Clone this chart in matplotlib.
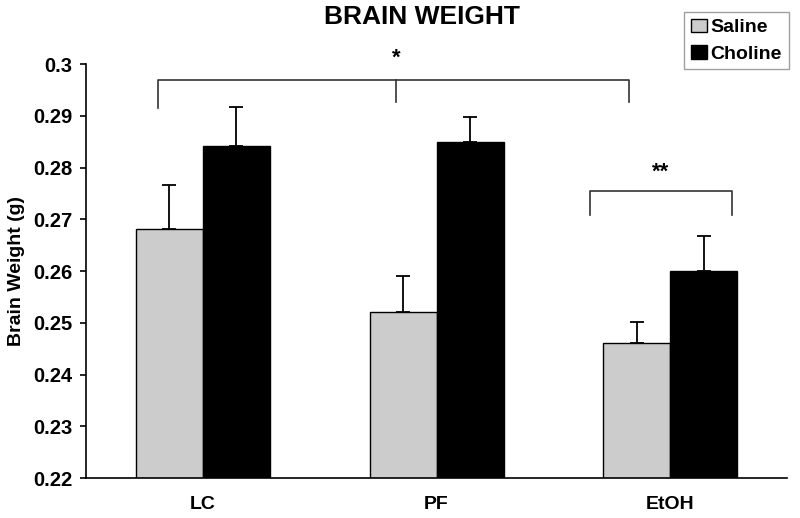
import matplotlib
matplotlib.use("Agg")
import matplotlib.pyplot as plt
import numpy as np

categories = ["LC", "PF", "EtOH"]
saline = [0.2682, 0.2520, 0.2460]
saline_err = [0.0085, 0.0070, 0.0042]
choline = [0.2842, 0.2850, 0.2601]
choline_err = [0.0074, 0.0047, 0.0067]
yticks = [0.22, 0.23, 0.24, 0.25, 0.26, 0.27, 0.28, 0.29, 0.3]
ytick_labels = ["0.22", "0.23", "0.24", "0.25", "0.26", "0.27", "0.28", "0.29", "0.3"]

plt.rcParams['font.family'] = ['Liberation Sans', 'DejaVu Sans']
plt.rcParams['font.weight'] = 'bold'

fig = plt.figure(figsize=(8, 5.18), dpi=100)
ax = fig.add_axes([0.1075, 0.0772, 0.8765, 0.7992])

x = np.arange(len(categories)) + 0.5
w = 0.287
ax.bar(x - w / 2, saline, w, bottom=0, color="#cccccc", edgecolor="black", linewidth=1.0,
       label="Saline", zorder=2)
ax.bar(x + w / 2, choline, w, bottom=0, color="black", edgecolor="black", linewidth=1.0,
       label="Choline", zorder=2)
ax.errorbar(x - w / 2, saline, yerr=[np.zeros(3), saline_err], fmt="none", ecolor="black",
            elinewidth=1.3, capsize=5, capthick=1.3, zorder=1)
ax.errorbar(x + w / 2, choline, yerr=[np.zeros(3), choline_err], fmt="none", ecolor="black",
            elinewidth=1.3, capsize=5, capthick=1.3, zorder=1)

ax.set_xlim(0, 3)
ax.set_ylim(0.22, 0.3)
ax.set_yticks(yticks)
ax.set_yticklabels(ytick_labels)
ax.set_xticks(x)
ax.set_xticklabels(categories)
ax.tick_params(axis="x", length=0, pad=13, labelsize=14)
ax.tick_params(axis="y", direction="out", length=4.5, width=1.2, pad=5.5, labelsize=14.5)
for lab in ax.get_xticklabels() + ax.get_yticklabels():
    lab.set_fontweight("bold")
ax.spines["top"].set_visible(False)
ax.spines["right"].set_visible(False)
ax.spines["left"].set_linewidth(1.2)
ax.spines["bottom"].set_linewidth(1.2)
ax.set_ylabel("Brain Weight (g)", fontsize=14, fontweight="bold", labelpad=6)

# significance brackets
bl = dict(color="#333333", linewidth=1.2, clip_on=False)
ax.plot([0.308, 0.308, 2.324, 2.324], [0.2915, 0.2969, 0.2969, 0.2927], **bl)
ax.plot([1.327, 1.327], [0.2969, 0.2927], **bl)
ax.text(1.327, 0.3012, "*", ha="center", va="center", fontsize=16, fontweight="bold")
ax.plot([2.157, 2.157, 2.764, 2.764], [0.2708, 0.2755, 0.2755, 0.2708], **bl)
ax.text(2.46, 0.2791, "**", ha="center", va="center", fontsize=16, fontweight="bold")

fig.text(0.527, 0.967, "BRAIN WEIGHT", ha="center", va="center", fontsize=19, fontweight="bold")

leg = ax.legend(loc="upper right", bbox_to_anchor=(0.986, 0.977), bbox_transform=fig.transFigure,
                frameon=True, fancybox=False, edgecolor="#888888", fontsize=14,
                handlelength=0.8, handleheight=0.7, handletextpad=0.2, borderpad=0.35,
                labelspacing=0.45, borderaxespad=0)
leg.get_frame().set_linewidth(1.0)
for t in leg.get_texts():
    t.set_fontweight("bold")

fig.savefig("out.png", dpi=100)
